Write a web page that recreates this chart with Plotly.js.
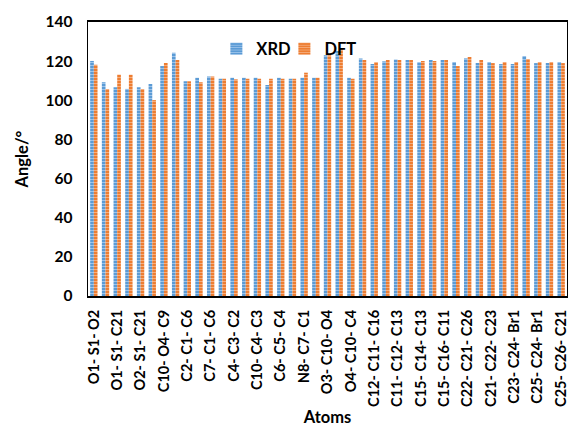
<!DOCTYPE html>
<html>
<head>
<meta charset="utf-8">
<script src="https://cdn.plot.ly/plotly-3.0.1.min.js"></script>
<style>html,body{margin:0;padding:0;background:#fff;}#chart{width:568px;height:437px;}</style>
</head>
<body>
<div id="chart"></div>
<script>
// category index 0..40 (labels shown on every other category)
var categoryIndex = [0,1,2,3,4,5,6,7,8,9,10,11,12,13,14,15,16,17,18,19,20,21,22,23,24,25,26,27,28,29,30,31,32,33,34,35,36,37,38,39,40];
var tickIndex = [0,2,4,6,8,10,12,14,16,18,20,22,24,26,28,30,32,34,36,38,40];
var tickLabels = ["O1- S1- O2","O1- S1- C21","O2- S1- C21","C10- O4- C9","C2- C1- C6","C7- C1- C6","C4- C3- C2","C10- C4- C3","C6- C5- C4","N8- C7- C1","O3- C10- O4","O4- C10- C4","C12- C11- C16","C11- C12- C13","C15- C14- C13","C15- C16- C11","C22- C21- C26","C21- C22- C23","C23- C24- Br1","C25- C24- Br1","C25- C26- C21"];
var xrd = [120.1,109.2,106.6,105.8,106.7,108.3,117.5,124.3,109.7,111.5,112.1,111.0,111.5,111.5,111.5,107.8,111.5,111.0,111.5,111.5,123.0,125.2,111.5,121.4,118.5,119.9,120.9,120.6,119.5,120.6,120.6,119.5,121.4,119.0,119.5,118.5,118.5,122.6,119.0,119.0,119.5];
var dft = [118.2,105.8,113.1,113.1,105.8,100.1,119.0,120.6,109.7,109.2,112.1,111.0,110.7,111.0,111.0,111.0,111.0,111.0,114.1,111.5,123.0,126.2,111.0,120.6,119.5,120.6,120.6,120.6,120.1,120.1,120.6,117.5,122.1,120.6,119.0,119.5,119.5,121.1,119.5,119.5,119.0];

var fontFam = "Lato, 'Open Sans', sans-serif";
var traces = [
  {type:'bar', name:'XRD', x:categoryIndex, y:xrd, legend:'legend',
   marker:{color:'#5b9bd5', pattern:{shape:'-', fgcolor:'#9cc3ea', bgcolor:'#5b9bd5', size:3, solidity:0.35}}},
  {type:'bar', name:'DFT', x:categoryIndex, y:dft, legend:'legend2',
   marker:{color:'#ed7d31', pattern:{shape:'-', fgcolor:'#f5ad7e', bgcolor:'#ed7d31', size:3, solidity:0.35}}}
];
var legendFont = {family:fontFam, size:16.5, color:'#000', weight:'bold'};
var layout = {
  width:568, height:437,
  margin:{l:88, r:1, t:22, b:141},
  paper_bgcolor:'#fff', plot_bgcolor:'#fff',
  barmode:'group', bargap:0.37, bargroupgap:0,
  font:{family:fontFam, color:'#000', size:12},
  showlegend:true,
  legend:{orientation:'h', x:0.268, y:0.965, xanchor:'left', yanchor:'top',
          font:legendFont, bgcolor:'rgba(0,0,0,0)', itemwidth:30},
  legend2:{orientation:'h', x:0.41, y:0.965, xanchor:'left', yanchor:'top',
          font:legendFont, bgcolor:'rgba(0,0,0,0)', itemwidth:30},
  xaxis:{range:[-0.5,40.5], tickmode:'array', tickvals:tickIndex, ticktext:tickLabels,
         tickangle:-90, tickfont:{family:fontFam, size:14.5, weight:'bold', color:'#000'},
         ticklabeloverflow:'allow', ticklabelstandoff:6,
         showgrid:false, zeroline:false, showline:true, linecolor:'#000', linewidth:2,
         mirror:true, ticks:'', ticklen:0,
         title:{text:'Atoms', font:{family:fontFam, size:16.5, weight:'bold', color:'#000'}, standoff:6}},
  yaxis:{range:[0,140], tickmode:'array', tickvals:[0,20,40,60,80,100,120,140],
         tickfont:{family:fontFam, size:15.5, weight:'bold', color:'#000'},
         ticklabelstandoff:11,
         showgrid:false, zeroline:false, showline:true, linecolor:'#000', linewidth:1.5,
         mirror:true, ticks:'', ticklen:0,
         title:{text:'Angle/°', font:{family:fontFam, size:16.5, weight:'bold', color:'#000'}, standoff:12}}
};
Plotly.newPlot('chart', traces, layout, {displayModeBar:false, staticPlot:true});
</script>
</body>
</html>
